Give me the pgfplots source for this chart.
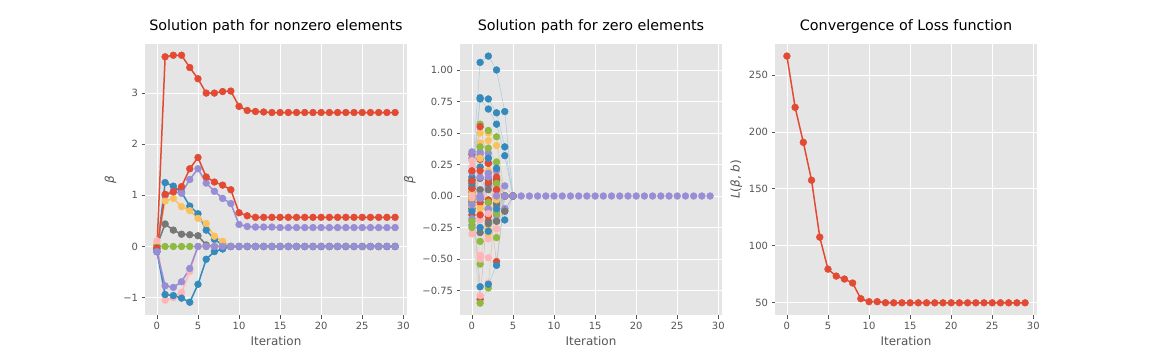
\documentclass[border=0pt]{standalone}
\usepackage{pgfplots}
\pgfplotsset{compat=1.18}
\usepackage{pgfplotstable}
\usepackage{fontspec}
\setmainfont{DejaVu Sans}

\definecolor{ggR}{HTML}{E24A33}
\definecolor{ggB}{HTML}{348ABD}
\definecolor{ggP}{HTML}{988ED5}
\definecolor{ggG}{HTML}{777777}
\definecolor{ggY}{HTML}{FBC15E}
\definecolor{ggGr}{HTML}{8EBA42}
\definecolor{ggPk}{HTML}{FFB5B8}
\definecolor{ggBG}{HTML}{E5E5E5}
\definecolor{ggT}{HTML}{555555}

% nonzero elements: one column per coefficient
\pgfplotstableread{
it R1 B1 P1 Gy Ye Gr Pk R2 B2 P2
0 -0.05 -0.10 -0.10 0.02 0.05 0.00 0.11 -0.03 -0.10 -0.10
1 3.71 1.25 0.99 0.44 0.89 0.00 -1.05 1.02 -0.94 -0.77
2 3.74 1.18 1.07 0.32 0.94 0.00 -1.00 1.07 -0.96 -0.80
3 3.74 1.06 1.04 0.24 0.78 0.00 -0.90 1.17 -1.01 -0.69
4 3.50 0.79 1.31 0.23 0.70 0.00 -0.49 1.52 -1.09 -0.43
5 3.28 0.64 1.52 0.21 0.55 0.00 0.00 1.74 -0.74 0.00
6 3.00 0.32 1.24 0.03 0.45 0.00 0.00 1.36 -0.25 0.00
7 3.00 0.14 1.08 0.00 0.20 0.00 0.00 1.26 -0.10 0.00
8 3.03 0.03 0.94 0.00 0.10 0.00 0.00 1.20 -0.05 0.00
9 3.04 0.00 0.84 0.00 0.00 0.00 0.00 1.11 0.00 0.00
10 2.74 0.00 0.43 0.00 0.00 0.00 0.00 0.66 0.00 0.00
11 2.66 0.00 0.39 0.00 0.00 0.00 0.00 0.60 0.00 0.00
12 2.64 0.00 0.38 0.00 0.00 0.00 0.00 0.57 0.00 0.00
13 2.63 0.00 0.38 0.00 0.00 0.00 0.00 0.57 0.00 0.00
14 2.62 0.00 0.38 0.00 0.00 0.00 0.00 0.57 0.00 0.00
15 2.62 0.00 0.37 0.00 0.00 0.00 0.00 0.57 0.00 0.00
16 2.62 0.00 0.37 0.00 0.00 0.00 0.00 0.57 0.00 0.00
17 2.62 0.00 0.37 0.00 0.00 0.00 0.00 0.57 0.00 0.00
18 2.62 0.00 0.37 0.00 0.00 0.00 0.00 0.57 0.00 0.00
19 2.62 0.00 0.37 0.00 0.00 0.00 0.00 0.57 0.00 0.00
20 2.62 0.00 0.37 0.00 0.00 0.00 0.00 0.57 0.00 0.00
21 2.62 0.00 0.37 0.00 0.00 0.00 0.00 0.57 0.00 0.00
22 2.62 0.00 0.37 0.00 0.00 0.00 0.00 0.57 0.00 0.00
23 2.62 0.00 0.37 0.00 0.00 0.00 0.00 0.57 0.00 0.00
24 2.62 0.00 0.37 0.00 0.00 0.00 0.00 0.57 0.00 0.00
25 2.62 0.00 0.37 0.00 0.00 0.00 0.00 0.57 0.00 0.00
26 2.62 0.00 0.37 0.00 0.00 0.00 0.00 0.57 0.00 0.00
27 2.62 0.00 0.37 0.00 0.00 0.00 0.00 0.57 0.00 0.00
28 2.62 0.00 0.37 0.00 0.00 0.00 0.00 0.57 0.00 0.00
29 2.62 0.00 0.37 0.00 0.00 0.00 0.00 0.57 0.00 0.00
}\nzdata

\pgfplotstableread{
it L
0 266.7
1 221.6
2 190.9
3 157.6
4 107.6
5 79.5
6 73.4
7 70.8
8 67.3
9 53.5
10 50.9
11 50.9
12 50.0
13 49.9
14 49.9
15 49.9
16 49.9
17 49.9
18 49.9
19 49.9
20 49.9
21 49.9
22 49.9
23 49.9
24 49.9
25 49.9
26 49.9
27 49.9
28 49.9
29 49.9
}\lossdata

\pgfplotsset{
  ggbase/.style={
    scale only axis, width=262bp, height=271bp, anchor=south west,
    axis background/.style={fill=ggBG},
    axis line style={draw=none},
    grid=major, grid style={white, line width=0.8pt},
    tick align=outside, major tick length=3.5bp, tick pos=left,
    tick style={ggT, line width=0.8pt},
    tick label style={font=\fontsize{10}{12}\selectfont, text=ggT},
    /pgf/number format/assume math mode=true,
    label style={font=\fontsize{12}{14}\selectfont, text=ggT},
    title style={font=\fontsize{14.4}{17}\selectfont, text=black, yshift=1bp},
    xmin=-1.45, xmax=30.45, xtick={0,5,...,30},
    xlabel={Iteration},
  },
  mk/.style={mark=*, mark size=3.4bp, mark options={fill=#1, draw=#1, line width=0.5bp}},
  thickcyc/.style={cycle list={
    {ggR, line width=1.5bp, mk=ggR},
    {ggB, line width=1.5bp, mk=ggB},
    {ggP, line width=1.5bp, mk=ggP},
    {ggG, line width=1.5bp, mk=ggG},
    {ggY, line width=1.5bp, mk=ggY},
    {ggGr, line width=1.5bp, mk=ggGr},
    {ggPk, line width=1.5bp, mk=ggPk}}},
  thincyc/.style={cycle list={
    {ggR!35!ggBG, line width=0.4bp, mk=ggR},
    {ggB!35!ggBG, line width=0.4bp, mk=ggB},
    {ggP!35!ggBG, line width=0.4bp, mk=ggP},
    {ggG!35!ggBG, line width=0.4bp, mk=ggG},
    {ggY!35!ggBG, line width=0.4bp, mk=ggY},
    {ggGr!35!ggBG, line width=0.4bp, mk=ggGr},
    {ggPk!35!ggBG, line width=0.4bp, mk=ggPk}}},
}

\begin{document}
\begin{tikzpicture}
\fill[white] (0,0) rectangle (1152bp,360bp);

% panel 1
\begin{axis}[ggbase, thickcyc, at={(145bp,45bp)},
  title={Solution path for nonzero elements},
  ymin=-1.34, ymax=3.96, ytick={-1,0,1,2,3},
  yticklabels={−1,0,1,2,3},
  ylabel={\itshape β}]
\addplot table[x=it, y=R1] {\nzdata};
\addplot table[x=it, y=B1] {\nzdata};
\addplot table[x=it, y=P1] {\nzdata};
\addplot table[x=it, y=Gy] {\nzdata};
\addplot table[x=it, y=Ye] {\nzdata};
\addplot table[x=it, y=Gr] {\nzdata};
\addplot table[x=it, y=Pk] {\nzdata};
\addplot table[x=it, y=R2] {\nzdata};
\addplot table[x=it, y=B2] {\nzdata};
\addplot table[x=it, y=P2] {\nzdata};
\end{axis}

% panel 2
\begin{axis}[ggbase, thincyc, at={(460bp,45bp)},
  title={Solution path for zero elements},
  ymin=-0.944, ymax=1.206, ytick={-0.75,-0.5,-0.25,0,0.25,0.5,0.75,1},
  yticklabels={−0.75,−0.50,−0.25,0.00,0.25,0.50,0.75,1.00},
  ylabel={\itshape β}]
\addplot coordinates {(0,0.33) (1,0.29) (2,0.26) (3,-0.07) (4,0) (5,0)};
\addplot coordinates {(0,0.15) (1,1.06) (2,1.11) (3,1.00) (4,0.67) (5,0)};
\addplot coordinates {(0,0.35) (1,0.35) (2,0.34) (3,0.20) (4,0.08) (5,0)};
\addplot coordinates {(0,0.00) (1,0.14) (2,0.13) (3,0.13) (4,-0.12) (5,0)};
\addplot coordinates {(0,0.05) (1,0.50) (2,0.50) (3,0.40) (4,0) (5,0)};
\addplot coordinates {(0,-0.01) (1,0.57) (2,0.52) (3,0.47) (4,0) (5,0)};
\addplot coordinates {(0,0.23) (1,-0.47) (2,-0.49) (3,-0.26) (4,0) (5,0)};
\addplot coordinates {(0,0.06) (1,-0.82) (2,-0.03) (3,-0.52) (4,0) (5,0)};
\addplot coordinates {(0,0.13) (1,0.78) (2,0.77) (3,0.66) (4,0.39) (5,0)};
\addplot coordinates {(0,0.19) (1,0.33) (2,0.08) (3,0.01) (4,-0.10) (5,0)};
\addplot coordinates {(0,-0.05) (1,-0.29) (2,-0.20) (3,-0.20) (4,0) (5,0)};
\addplot coordinates {(0,0.10) (1,0.42) (2,0.44) (3,0.05) (4,0) (5,0)};
\addplot coordinates {(0,-0.07) (1,0.39) (2,0.38) (3,0.27) (4,0) (5,0)};
\addplot coordinates {(0,-0.12) (1,-0.79) (2,-0.69) (3,0.00) (4,0) (5,0)};
\addplot coordinates {(0,0.20) (1,0.55) (2,0.26) (3,0.12) (4,0) (5,0)};
\addplot coordinates {(0,0.03) (1,0.77) (2,0.69) (3,0.57) (4,0.32) (5,0)};
\addplot coordinates {(0,-0.23) (1,0.30) (2,0.30) (3,-0.12) (4,0) (5,0)};
\addplot coordinates {(0,0.08) (1,0.00) (2,0.05) (3,-0.06) (4,0) (5,0)};
\addplot coordinates {(0,0.02) (1,-0.07) (2,-0.26) (3,0.05) (4,0) (5,0)};
\addplot coordinates {(0,-0.10) (1,-0.36) (2,-0.11) (3,-0.33) (4,0) (5,0)};
\addplot coordinates {(0,-0.30) (1,-0.19) (2,0.18) (3,-0.02) (4,0) (5,0)};
\addplot coordinates {(0,0.06) (1,-0.05) (2,-0.16) (3,0.15) (4,0) (5,0)};
\addplot coordinates {(0,-0.03) (1,0.23) (2,0.30) (3,0.22) (4,-0.19) (5,0)};
\addplot coordinates {(0,0.30) (1,0.15) (2,-0.10) (3,0.05) (4,0) (5,0)};
\addplot coordinates {(0,0.12) (1,-0.02) (2,0.10) (3,0.10) (4,0) (5,0)};
\addplot coordinates {(0,-0.02) (1,0.30) (2,0.20) (3,-0.03) (4,0) (5,0)};
\addplot coordinates {(0,-0.25) (1,-0.85) (2,-0.73) (3,0.10) (4,0) (5,0)};
\addplot coordinates {(0,0.28) (1,0.00) (2,-0.34) (3,0.03) (4,0) (5,0)};
\addplot coordinates {(0,-0.15) (1,0.20) (2,-0.05) (3,0.04) (4,0) (5,0)};
\addplot coordinates {(0,0.10) (1,-0.72) (2,-0.70) (3,-0.55) (4,0) (5,0)};
\addplot coordinates {(0,-0.18) (1,-0.02) (2,0.18) (3,-0.15) (4,0) (5,0)};
\addplot coordinates {(0,-0.10) (1,0.05) (2,-0.22) (3,-0.20) (4,-0.12) (5,0)};
\addplot coordinates {(0,-0.08) (1,-0.10) (2,-0.30) (3,0.02) (4,0) (5,0)};
\addplot coordinates {(0,-0.20) (1,-0.54) (2,-0.05) (3,-0.14) (4,0) (5,0)};
\addplot coordinates {(0,0.00) (1,-0.50) (2,-0.14) (3,0.02) (4,0) (5,0)};
\addplot coordinates {(0,0.12) (1,-0.15) (2,0.11) (3,0.05) (4,0) (5,0)};
\addplot coordinates {(0,-0.12) (1,-0.25) (2,-0.28) (3,-0.10) (4,0) (5,0)};
\addplot coordinates {(0,-0.07) (1,0.00) (2,0.15) (3,0.00) (4,0) (5,0) (6,0) (7,0) (8,0) (9,0) (10,0) (11,0) (12,0) (13,0) (14,0) (15,0) (16,0) (17,0) (18,0) (19,0) (20,0) (21,0) (22,0) (23,0) (24,0) (25,0) (26,0) (27,0) (28,0) (29,0)};
\end{axis}

% panel 3
\begin{axis}[ggbase, thickcyc, at={(775bp,45bp)},
  title={Convergence of Loss function},
  ymin=39.2, ymax=277.3, ytick={50,100,150,200,250},
  ylabel={{\itshape L}({\itshape β}, {\itshape b})}]
\addplot table[x=it, y=L] {\lossdata};
\end{axis}
\end{tikzpicture}
\end{document}
